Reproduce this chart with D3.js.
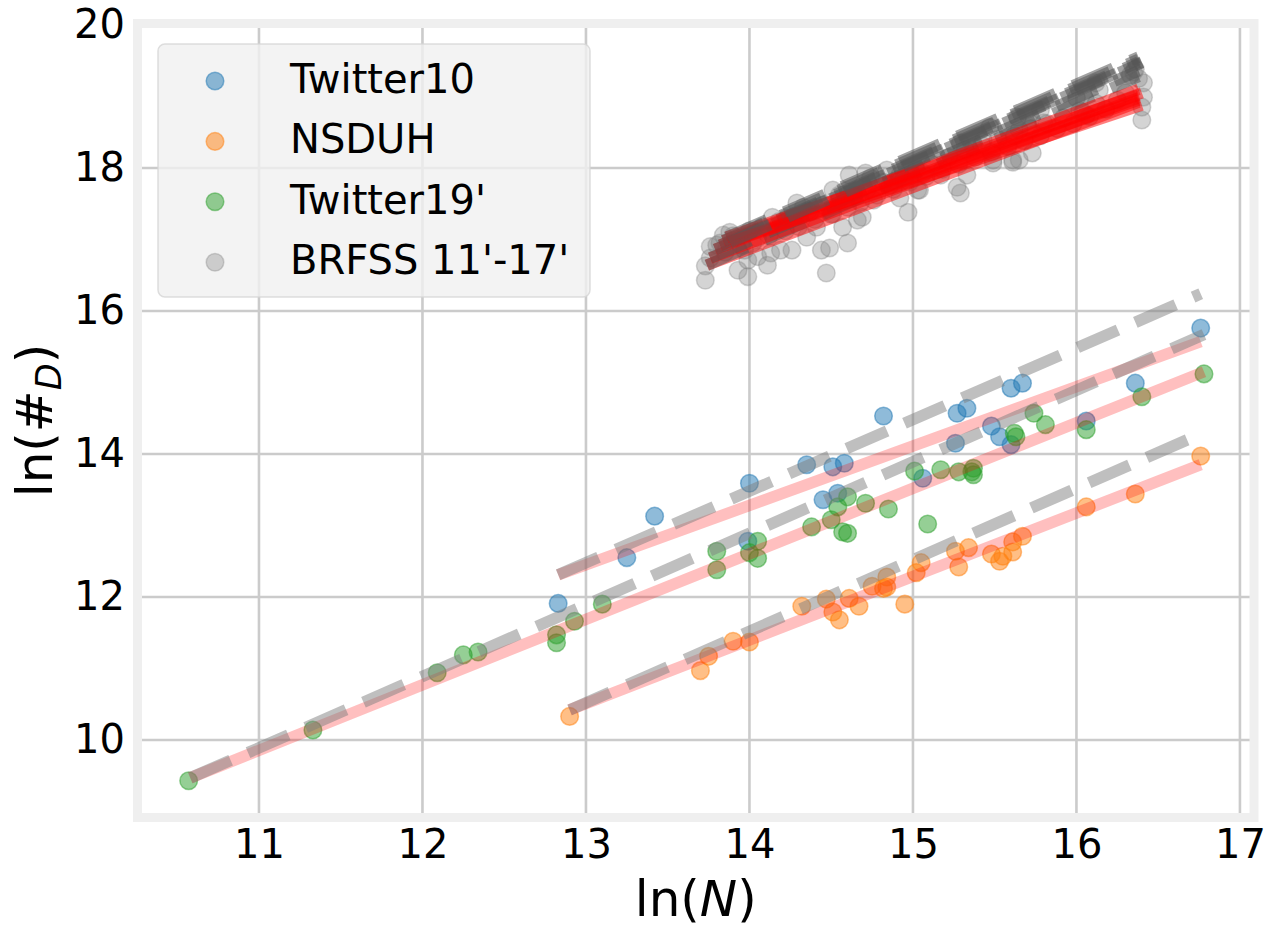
<!DOCTYPE html>
<html>
<head>
<meta charset="utf-8">
<script src="https://cdn.jsdelivr.net/npm/d3@7"></script>
<style>
  html, body { margin: 0; padding: 0; background: #ffffff; }
  svg { display: block; font-family: "DejaVu Sans", sans-serif; }
</style>
</head>
<body>
<svg id="chart" width="1275" height="928"></svg>
<script>
// ---------------- data ----------------
const seriesNames = ["Twitter10", "NSDUH", "Twitter19'", "BRFSS 11'-17'"];

const twitter10X = [12.83, 13.25, 13.42, 13.99, 14.00, 14.35, 14.45, 14.51, 14.54, 14.58, 14.82, 15.06, 15.26, 15.27, 15.33, 15.48, 15.53, 15.60, 15.60, 15.67, 16.06, 16.36, 16.76];
const twitter10Y = [11.91, 12.55, 13.13, 12.78, 13.59, 13.85, 13.36, 13.82, 13.45, 13.87, 14.53, 13.66, 14.15, 14.57, 14.64, 14.39, 14.24, 14.13, 14.92, 14.99, 14.46, 14.99, 15.76];

const nsduhX = [12.90, 13.70, 13.75, 13.90, 14.00, 14.32, 14.47, 14.51, 14.55, 14.61, 14.67, 14.75, 14.82, 14.84, 14.84, 14.95, 15.02, 15.05, 15.26, 15.28, 15.34, 15.48, 15.53, 15.55, 15.61, 15.61, 15.67, 16.06, 16.36, 16.76];
const nsduhY = [10.33, 10.97, 11.17, 11.38, 11.37, 11.87, 11.97, 11.79, 11.68, 11.98, 11.87, 12.15, 12.12, 12.28, 12.14, 11.90, 12.34, 12.48, 12.64, 12.42, 12.69, 12.60, 12.50, 12.57, 12.63, 12.77, 12.85, 13.26, 13.44, 13.97];

const twitter19X = [10.57, 11.33, 12.09, 12.25, 12.34, 12.82, 12.82, 12.93, 13.10, 13.80, 13.80, 14.00, 14.05, 14.05, 14.38, 14.50, 14.54, 14.57, 14.60, 14.60, 14.71, 14.85, 15.01, 15.09, 15.17, 15.28, 15.36, 15.37, 15.37, 15.62, 15.63, 15.74, 15.81, 16.06, 16.40, 16.78];
const twitter19Y = [9.43, 10.14, 10.94, 11.19, 11.23, 11.36, 11.47, 11.66, 11.90, 12.38, 12.64, 12.62, 12.54, 12.78, 12.98, 13.08, 13.26, 12.91, 12.89, 13.40, 13.31, 13.23, 13.76, 13.02, 13.78, 13.75, 13.75, 13.71, 13.80, 14.29, 14.24, 14.57, 14.41, 14.34, 14.80, 15.12];

const brfssX = [13.73, 13.73, 13.76, 13.80, 13.88, 13.93, 13.99, 13.99, 14.05, 14.11, 14.13, 14.14, 14.19, 14.26, 14.29, 14.35, 14.44, 14.47, 14.49, 14.60, 14.51, 14.61, 14.69, 14.71, 14.84, 14.92, 14.97, 15.04, 15.27, 15.29, 14.37, 14.41, 14.57, 14.66, 13.84, 13.76, 13.97, 14.05, 14.23, 14.33, 14.51, 14.55, 14.74, 14.76, 14.86, 14.94, 15.06,
  16.40, 16.40, 16.41, 16.41, 16.35, 16.06, 16.04, 16.00, 15.73, 15.65, 15.61, 15.49, 15.33, 15.17, 15.78, 15.64, 15.80, 16.12, 16.14, 15.37, 15.43, 15.29, 15.47, 15.65, 15.03, 15.49, 15.61,
  13.82, 13.85, 13.90, 13.95, 14.00, 14.02, 14.08, 14.12, 14.18, 14.22, 14.27, 14.30, 14.36, 14.40, 14.45, 14.50, 14.55, 14.60, 14.64, 14.68, 14.72, 14.78, 14.82, 14.88, 14.92, 14.98, 15.02, 15.08, 15.12, 15.18, 15.22, 15.28, 15.32, 15.38, 15.42, 15.48, 15.52, 15.58, 15.62, 15.68, 15.72, 15.78, 15.82, 15.88, 15.92, 15.98, 16.02, 16.08, 16.12, 16.18, 16.25, 16.30, 16.33, 16.36, 16.38];
const brfssY = [16.43, 16.63, 16.90, 16.92, 17.10, 16.57, 16.48, 16.71, 16.76, 16.64, 16.81, 17.31, 16.85, 16.85, 17.51, 17.03, 16.85, 16.53, 16.88, 16.95, 17.69, 17.90, 17.31, 17.93, 17.97, 17.58, 17.38, 17.69, 17.73, 17.65, 17.38, 17.17, 17.17, 17.27, 17.06, 16.74, 16.85, 17.02, 17.30, 17.45, 17.36, 17.62, 17.86, 17.55, 17.76, 17.83, 17.93,
  18.67, 18.85, 18.99, 19.19, 19.34, 18.74, 18.78, 18.98, 18.21, 18.11, 18.08, 18.07, 17.90, 17.90, 18.81, 18.71, 18.63, 19.19, 19.09, 18.29, 18.39, 18.35, 18.57, 18.53, 17.69, 18.11, 18.11,
  16.95, 16.82, 17.05, 16.92, 17.12, 16.95, 17.18, 17.05, 17.25, 17.12, 17.32, 17.18, 17.40, 17.28, 17.48, 17.35, 17.55, 17.45, 17.62, 17.52, 17.70, 17.62, 17.80, 17.70, 17.90, 17.80, 17.98, 17.88, 18.05, 17.98, 18.15, 18.05, 18.25, 18.15, 18.32, 18.22, 18.40, 18.30, 18.45, 18.38, 18.55, 18.45, 18.62, 18.55, 18.70, 18.62, 18.80, 18.72, 18.90, 18.82, 18.95, 19.05, 19.30, 19.38, 19.25];

// fitted lines (solid, red) and slope-1 reference lines (dashed, gray): endpoints
const fitX0 = [12.83, 12.90, 10.58, 13.74, 13.76, 13.79, 13.82, 13.84, 13.86, 13.88];
const fitY0 = [12.31, 10.42, 9.47, 16.64, 16.74, 16.86, 16.92, 16.98, 17.03, 16.96];
const fitX1 = [16.76, 16.76, 16.78, 16.38, 16.38, 16.40, 16.38, 16.38, 16.38, 16.40];
const fitY1 = [15.57, 13.85, 15.15, 18.92, 18.98, 19.05, 18.95, 19.10, 19.02, 18.88];
const refY1 = [16.24, 14.28, 15.67, 19.28, 19.36, 19.47, 19.48, 19.52, 19.55, 19.48];
const fitAlpha = [0.25, 0.25, 0.25, 0.5, 0.5, 0.5, 0.5, 0.5, 0.5, 0.5];
const refColor = ["#808080", "#808080", "#808080", "#555555", "#555555", "#555555", "#555555", "#555555", "#555555", "#555555"];
const refAlpha = [0.5, 0.5, 0.5, 0.55, 0.55, 0.55, 0.55, 0.55, 0.55, 0.55];

const xTicks = [11, 12, 13, 14, 15, 16, 17];
const yTicks = [10, 12, 14, 16, 18, 20];

// ---------------- drawing ----------------
const svg = d3.select("#chart");
const L = 137.5, R = 1254, T = 23.5, B = 817.5;
const x = d3.scaleLinear().domain([10.257, 17.086]).range([L, R]);
const y = d3.scaleLinear().domain([8.916, 20.02]).range([B, T]);

const colors = ["#1f77b4", "#ff7f0e", "#2ca02c", "#808080"];
const alphas = [0.5, 0.5, 0.5, 0.34];

// grid
const grid = svg.append("g");
grid.selectAll(".gx").data(xTicks).join("line")
  .attr("x1", d => x(d)).attr("x2", d => x(d)).attr("y1", T).attr("y2", B)
  .attr("stroke", "#cbcbcb").attr("stroke-width", 2.6);
grid.selectAll(".gy").data(yTicks).join("line")
  .attr("x1", L).attr("x2", R).attr("y1", d => y(d)).attr("y2", d => y(d))
  .attr("stroke", "#cbcbcb").attr("stroke-width", 2.6);

// scatter
const seriesX = [twitter10X, nsduhX, twitter19X, brfssX];
const seriesY = [twitter10Y, nsduhY, twitter19Y, brfssY];
const plot = svg.append("g");
seriesX.forEach((xs, i) => {
  const pts = xs.map((v, j) => [v, seriesY[i][j]]);
  plot.append("g").selectAll("circle").data(pts).join("circle")
    .attr("cx", d => x(d[0])).attr("cy", d => y(d[1])).attr("r", 8.8)
    .attr("fill", colors[i]).attr("fill-opacity", alphas[i])
    .attr("stroke", colors[i]).attr("stroke-opacity", alphas[i]).attr("stroke-width", 1.5);
});

// lines
const lines = plot.append("g");
fitX0.forEach((x0, i) => {
  lines.append("line")
    .attr("x1", x(x0)).attr("y1", y(fitY0[i])).attr("x2", x(fitX1[i])).attr("y2", y(fitY1[i]))
    .attr("stroke", "#ff0000").attr("stroke-opacity", fitAlpha[i]).attr("stroke-width", 11.5)
    .attr("stroke-linecap", "butt");
  lines.append("line")
    .attr("x1", x(x0)).attr("y1", y(fitY0[i])).attr("x2", x(fitX1[i])).attr("y2", y(refY1[i]))
    .attr("stroke", refColor[i]).attr("stroke-opacity", refAlpha[i]).attr("stroke-width", 11.5)
    .attr("stroke-dasharray", "44,19").attr("stroke-linecap", "butt");
});

// frame (thick light spines)
svg.append("rect").attr("x", L).attr("y", T).attr("width", R - L).attr("height", B - T)
  .attr("fill", "none").attr("stroke", "#efefef").attr("stroke-width", 9);

// axes (labels only, no tick marks)
const xAxis = svg.append("g").attr("transform", `translate(0,${B})`)
  .call(d3.axisBottom(x).tickValues(xTicks).tickSize(0).tickPadding(12).tickFormat(d3.format("d")));
const yAxis = svg.append("g").attr("transform", `translate(${L},0)`)
  .call(d3.axisLeft(y).tickValues(yTicks).tickSize(0).tickPadding(12.5).tickFormat(d3.format("d")));
[xAxis, yAxis].forEach(a => {
  a.select(".domain").remove();
  a.selectAll("text").attr("font-size", 40).attr("fill", "#000")
    .attr("font-family", "DejaVu Sans, sans-serif");
});

// axis titles
const xt = svg.append("text").attr("x", (L + R) / 2).attr("y", 916)
  .attr("text-anchor", "middle").attr("font-size", 50).attr("fill", "#000");
xt.append("tspan").text("ln(");
xt.append("tspan").attr("font-style", "italic").text("N");
xt.append("tspan").text(")");

const yt = svg.append("text").attr("transform", `translate(52,${(T + B) / 2}) rotate(-90)`)
  .attr("text-anchor", "middle").attr("font-size", 50).attr("fill", "#000");
yt.append("tspan").text("ln(#");
yt.append("tspan").attr("font-style", "italic").attr("font-size", 35).attr("dy", 9).text("D");
yt.append("tspan").attr("dy", -9).text(")");

// legend
const lg = svg.append("g");
lg.append("rect").attr("x", 158).attr("y", 44).attr("width", 432).attr("height", 253).attr("rx", 7)
  .attr("fill", "#f0f0f0").attr("fill-opacity", 0.8).attr("stroke", "#d6d6d6").attr("stroke-opacity", 0.8)
  .attr("stroke-width", 1.5);
const legRows = lg.selectAll(".row").data(seriesNames).join("g")
  .attr("transform", (d, i) => `translate(0,${81 + i * 60.4})`);
legRows.append("circle").attr("cx", 215).attr("cy", 0).attr("r", 8.8)
  .attr("fill", (d, i) => colors[i]).attr("fill-opacity", (d, i) => alphas[i])
  .attr("stroke", (d, i) => colors[i]).attr("stroke-opacity", (d, i) => alphas[i]).attr("stroke-width", 1.5);
legRows.append("text").attr("x", 290).attr("y", 12).attr("font-size", 40).attr("fill", "#000")
  .text(d => d);
</script>
</body>
</html>
